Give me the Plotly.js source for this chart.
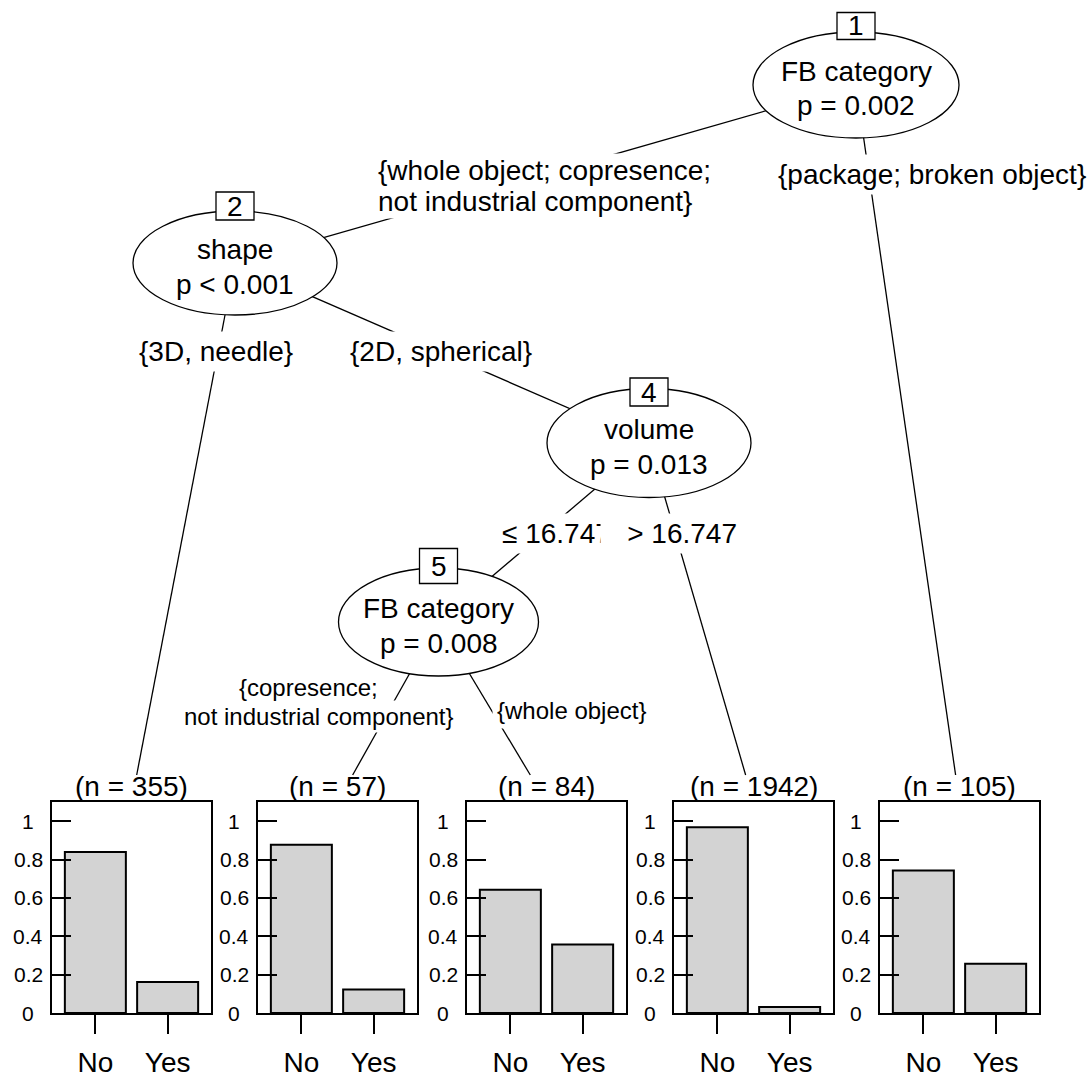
<!DOCTYPE html>
<html><head><meta charset="utf-8">
<script src="https://cdn.plot.ly/plotly-3.0.1.min.js"></script>
<style>html,body{margin:0;padding:0;background:#fff;} #chart{width:1091px;height:1081px;}</style>
</head><body><div id="chart"></div>
<script>
// ---------------- data ----------------
const nodeIds   = [1, 2, 4, 5];
const nodeVars  = ['FB category', 'shape', 'volume', 'FB category'];
const nodePvals = ['p = 0.002', 'p < 0.001', 'p = 0.013', 'p = 0.008'];
const terminalN = [355, 57, 84, 1942, 105];
const classes   = ['No', 'Yes'];
const propNo    = [0.839, 0.877, 0.643, 0.969, 0.743];
const propYes   = [0.161, 0.123, 0.357, 0.031, 0.257];
const yTickVals = [0, 0.2, 0.4, 0.6, 0.8, 1];
const yTickText = ['0', '0.2', '0.4', '0.6', '0.8', '1'];
const splitLabels = [
  '{whole object; copresence;', 'not industrial component}',
  '{package; broken object}',
  '{3D, needle}', '{2D, spherical}',
  '\u2264 16.747', '> 16.747',
  '{copresence;', 'not industrial component}', '{whole object}'
];

// ---------------- geometry (pixels) ----------------
const W = 1091, H = 1081;
const FONT = 'Liberation Sans, Arial, sans-serif';
const X = px => px / W;
const Y = py => 1 - py / H;
const nodeGeo = {
  1: {x: 856,   y: 85,  a: 103, b: 53,   by: 26,  bh: 27},
  2: {x: 235,   y: 263, a: 102, b: 52,   by: 206, bh: 28},
  4: {x: 649,   y: 443, a: 102, b: 54.5, by: 392, bh: 28},
  5: {x: 438.5, y: 622, a: 100, b: 54,   by: 566, bh: 35}
};
const BOX_W = 38;
const panelLeft = [52, 258, 467, 674, 880];
const PANEL_W = 159, PANEL_TOP = 802, PANEL_BOT = 1013, LABEL_TOP = 775;
// edges: parent -> inner node or terminal panel index
const edges = [
  {from: 1, to: 2}, {from: 1, term: 4},
  {from: 2, term: 0}, {from: 2, to: 4},
  {from: 4, to: 5}, {from: 4, term: 3},
  {from: 5, term: 1}, {from: 5, term: 2}
];

const shapes = [];
const annotations = [];
const LW = 1.3;

// edges
edges.forEach(e => {
  const p = nodeGeo[e.from];
  let x1, y1;
  if (e.to !== undefined) { x1 = nodeGeo[e.to].x; y1 = nodeGeo[e.to].y; }
  else {
    const cx = panelLeft[e.term] + PANEL_W / 2;
    const t = (LABEL_TOP - p.y) / (PANEL_TOP - p.y);
    x1 = p.x + (cx - p.x) * t; y1 = LABEL_TOP;
  }
  shapes.push({type: 'line', xref: 'paper', yref: 'paper',
    x0: X(p.x), y0: Y(p.y), x1: X(x1), y1: Y(y1),
    line: {color: '#000', width: LW}});
});
// ellipses + id boxes
nodeIds.forEach((id, i) => {
  const g = nodeGeo[id];
  shapes.push({type: 'circle', xref: 'paper', yref: 'paper',
    x0: X(g.x - g.a), x1: X(g.x + g.a), y0: Y(g.y - g.b), y1: Y(g.y + g.b),
    fillcolor: '#fff', line: {color: '#000', width: LW}});
});
nodeIds.forEach((id, i) => {
  const g = nodeGeo[id];
  shapes.push({type: 'rect', xref: 'paper', yref: 'paper',
    x0: X(g.x - BOX_W / 2), x1: X(g.x + BOX_W / 2), y0: Y(g.by - g.bh / 2), y1: Y(g.by + g.bh / 2),
    fillcolor: '#fff', line: {color: '#000', width: LW}});
  annotations.push({xref: 'paper', yref: 'paper', x: X(g.x), y: Y(g.by), text: String(id),
    showarrow: false, xanchor: 'center', yanchor: 'middle', font: {family: FONT, size: 28, color: '#000'}});
  annotations.push({xref: 'paper', yref: 'paper', x: X(g.x), y: Y(g.y - 14), text: nodeVars[i],
    showarrow: false, xanchor: 'center', yanchor: 'middle', font: {family: FONT, size: 28, color: '#000'}});
  annotations.push({xref: 'paper', yref: 'paper', x: X(g.x), y: Y(g.y + 21), text: nodePvals[i],
    showarrow: false, xanchor: 'center', yanchor: 'middle', font: {family: FONT, size: 28, color: '#000'}});
});

// split (edge) labels, drawn with white background over the edges
const labelGeo = [
  {i: 1, x: 376, y: 201, xa: 'left',   fs: 28, pad: 1},
  {i: 0, x: 376, y: 170.5, xa: 'left', fs: 28, pad: 1},
  {i: 2, x: 932, y: 175, xa: 'center', fs: 28, pad: 4},
  {i: 3, x: 215.5, y: 352, xa: 'center', fs: 28, pad: 4},
  {i: 4, x: 441, y: 352, xa: 'center', fs: 28, pad: 4},
  {i: 5, x: 497, y: 534, xa: 'left', fs: 28, pad: 4},
  {i: 6, x: 742, y: 534, xa: 'right', fs: 28, pad: 4, w: 132},
  {i: 8, x: 457, y: 716.5, xa: 'right', fs: 24, pad: 2},
  {i: 7, x: 308, y: 687, xa: 'center', fs: 24, pad: 2},
  {i: 9, x: 492, y: 710, xa: 'left', fs: 24, pad: 4}
];
labelGeo.forEach(l => {
  const a = {xref: 'paper', yref: 'paper', x: X(l.x), y: Y(l.y), text: splitLabels[l.i],
    showarrow: false, xanchor: l.xa, yanchor: 'middle', bgcolor: '#fff', borderpad: l.pad,
    font: {family: FONT, size: l.fs, color: '#000'}};
  if (l.w) { a.width = l.w; a.align = 'right'; }
  annotations.push(a);
});

// terminal panels
const traces = [];
const layout = {
  width: W, height: H, autosize: false,
  margin: {l: 0, r: 0, t: 0, b: 0},
  paper_bgcolor: '#fff', plot_bgcolor: '#fff',
  showlegend: false, bargap: 0,
  font: {family: FONT, color: '#000'},
  shapes: shapes, annotations: annotations
};
terminalN.forEach((n, k) => {
  const ax = k + 2;
  const left = panelLeft[k], right = left + PANEL_W;
  traces.push({type: 'bar', x: [1, 2], y: [propNo[k], propYes[k]], width: 0.844,
    xaxis: 'x' + ax, yaxis: 'y' + ax,
    marker: {color: '#d3d3d3', line: {color: '#000', width: 2}}, hoverinfo: 'skip'});
  layout['xaxis' + ax] = {domain: [X(left), X(right)], anchor: 'y' + ax, range: [0.4, 2.6],
    showline: true, mirror: true, linecolor: '#000', linewidth: 2, showgrid: false, zeroline: false,
    tickmode: 'array', tickvals: [1, 2], ticktext: classes, ticks: 'outside', ticklen: 19,
    tickwidth: 2, tickcolor: '#000', ticklabelstandoff: 4,
    tickfont: {family: FONT, size: 28, color: '#000'}, fixedrange: true};
  layout['yaxis' + ax] = {domain: [Y(PANEL_BOT), Y(PANEL_TOP)], anchor: 'x' + ax, range: [0, 1.1],
    showline: true, mirror: true, linecolor: '#000', linewidth: 2, showgrid: false, zeroline: false,
    tickmode: 'array', tickvals: yTickVals, ticks: 'inside', ticklen: 19, tickwidth: 2, tickcolor: '#000',
    showticklabels: false, fixedrange: true};
  yTickVals.forEach((v, j) => {
    annotations.push({xref: 'paper', yref: 'y' + ax, x: X(left - 24), y: v, text: yTickText[j],
      showarrow: false, xanchor: 'center', yanchor: 'middle', font: {family: FONT, size: 21, color: '#000'}});
  });
  annotations.push({xref: 'paper', yref: 'paper', x: X(left + PANEL_W / 2), y: Y(786),
    text: '(n = ' + n + ')', showarrow: false, xanchor: 'center', yanchor: 'middle',
    font: {family: FONT, size: 28, color: '#000'}});
});

Plotly.newPlot('chart', traces, layout, {staticPlot: true, displayModeBar: false});
</script>
</body></html>
